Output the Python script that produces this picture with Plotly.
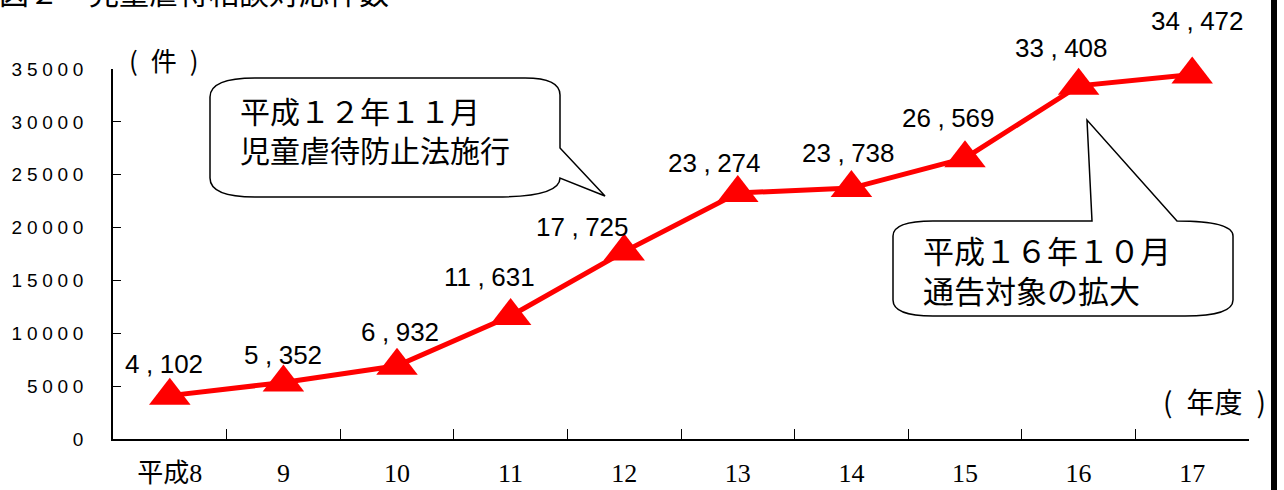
import plotly.graph_objects as go

# ---- data ----
years = ["平成8", "9", "10", "11", "12", "13", "14", "15", "16", "17"]
cases = [4102, 5352, 6932, 11631, 17725, 23274, 23738, 26569, 33408, 34472]
y_ticks = [0, 5000, 10000, 15000, 20000, 25000, 30000, 35000]

# label placement (pixel nudges from each point)
label_dx = [-6, 0, 3, -21, -42, -23, -3, -17, -17, 5]
label_dy = [32, 27, 34, 39, 25, 30, 35, 40, 38, 54]

W, H = 1284, 490
L, R, T, B = 113, 35, 69, 51
PW, PH = W - L - R, H - T - B

def px(x):
    return (x - L) / PW

def py(y):
    return (H - B - y) / PH

def path(cmds):
    out = []
    for c in cmds:
        op, pts = c[0], c[1:]
        s = op
        for i in range(0, len(pts), 2):
            s += f"{px(pts[i]):.5f},{py(pts[i+1]):.5f} "
        out.append(s.strip())
    return " ".join(out) + " Z"

SP = "\u2005"
y_ticktext = [SP.join(str(v)) for v in y_ticks]
labels = [f"{v:,}".replace(",", SP + "," + SP) for v in cases]

fig = go.Figure()
fig.add_trace(go.Scatter(
    x=years, y=cases, mode="lines+markers",
    line=dict(color="#FF0000", width=5),
    marker=dict(symbol="triangle-up", size=36, color="#FF0000"),
    cliponaxis=False, hoverinfo="skip",
))

annotations = []
for i, v in enumerate(cases):
    annotations.append(dict(
        x=i, y=v, xref="x", yref="y", text=labels[i], showarrow=False,
        xshift=label_dx[i], yshift=label_dy[i],
        font=dict(family="Liberation Sans, Arial", size=26, color="black"),
        xanchor="center", yanchor="middle",
    ))

cjk = "Noto Sans CJK JP"
EN = "\u2002"
annotations += [
    dict(x=px(-3), y=py(-9), xref="paper", yref="paper", xanchor="left", yanchor="middle",
         text="図２　児童虐待相談対応件数", showarrow=False,
         font=dict(family=cjk, size=30, color="black")),
    dict(x=px(127), y=py(59), xref="paper", yref="paper", xanchor="left", yanchor="middle",
         text="(" + EN + "件" + EN + ")", showarrow=False,
         font=dict(family=cjk, size=26, color="black")),
    dict(x=px(1161), y=py(401), xref="paper", yref="paper", xanchor="left", yanchor="middle",
         text="(" + EN + "年度" + EN + ")", showarrow=False,
         font=dict(family=cjk, size=28, color="black")),
    dict(x=px(238), y=py(129), xref="paper", yref="paper", xanchor="left", yanchor="middle",
         text="平成１２年１１月<br>児童虐待防止法施行", showarrow=False, align="left",
         font=dict(family=cjk, size=30, color="black")),
    dict(x=px(921), y=py(269), xref="paper", yref="paper", xanchor="left", yanchor="middle",
         text="平成１６年１０月<br>通告対象の拡大", showarrow=False, align="left",
         font=dict(family=cjk, size=31, color="black")),
]

bubble1 = path([
    ("M", 255, 78), ("L", 525, 78), ("Q", 560, 78, 560, 95), ("L", 560, 148),
    ("L", 605, 196), ("L", 560, 178), ("Q", 560, 197, 495, 197), ("L", 255, 197),
    ("Q", 210, 197, 210, 178), ("L", 210, 97), ("Q", 210, 78, 255, 78),
])
bubble2 = path([
    ("M", 933, 221), ("L", 1092, 221), ("L", 1087, 120), ("L", 1177, 221),
    ("Q", 1233, 221, 1233, 236), ("L", 1233, 300), ("Q", 1233, 316, 1185, 316),
    ("L", 933, 316), ("Q", 893, 316, 893, 300), ("L", 893, 236), ("Q", 893, 221, 933, 221),
])

shapes = [
    dict(type="path", path=bubble1, xref="paper", yref="paper",
         line=dict(color="black", width=1.5), fillcolor="rgba(255,255,255,0)"),
    dict(type="path", path=bubble2, xref="paper", yref="paper",
         line=dict(color="black", width=1.5), fillcolor="rgba(255,255,255,0)"),
    dict(type="rect", x0=px(1271), x1=px(1277), y0=py(H + 5), y1=py(-5),
         xref="paper", yref="paper", line=dict(width=0), fillcolor="black"),
]

fig.update_layout(
    width=W, height=H, margin=dict(l=L, r=R, t=T, b=B, pad=0, autoexpand=False),
    paper_bgcolor="white", plot_bgcolor="white", showlegend=False,
    annotations=annotations, shapes=shapes,
    xaxis=dict(type="category", categoryorder="array", categoryarray=years,
               range=[-0.5, 9.5], showline=True, linecolor="black", linewidth=1.5,
               ticks="inside", ticklen=10, tickwidth=1, tickcolor="black",
               tickson="boundaries", showgrid=False, zeroline=False,
               ticklabelstandoff=10, automargin=False,
               tickfont=dict(family="Liberation Serif, Noto Sans CJK JP", size=26, color="black")),
    yaxis=dict(range=[0, 35000], tickvals=y_ticks, ticktext=y_ticktext,
               showline=True, linecolor="black", linewidth=1.5,
               ticks="inside", ticklen=8, tickwidth=1, tickcolor="black",
               showgrid=False, zeroline=False, ticklabelstandoff=24, automargin=False,
               tickfont=dict(family="Liberation Sans, Arial", size=19, color="black")),
)

fig.write_html("out.html")
